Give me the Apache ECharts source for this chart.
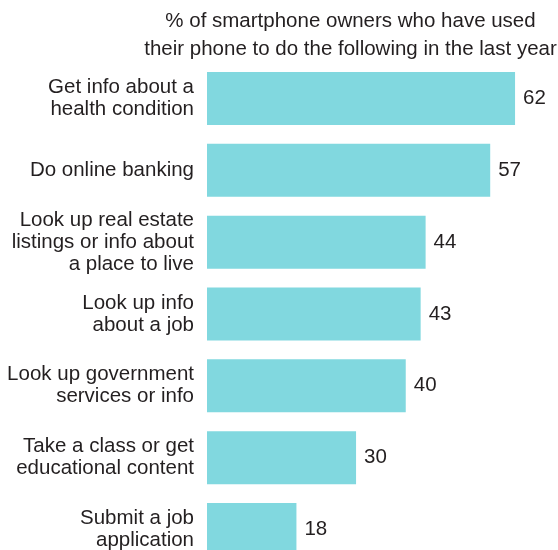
<!DOCTYPE html>
<html>
<head>
<meta charset="utf-8">
<script src="https://cdn.jsdelivr.net/npm/echarts@6/dist/echarts.min.js"></script>
<style>
  html, body { margin: 0; padding: 0; background: #ffffff; }
  #chart { width: 558px; height: 550px; }
</style>
</head>
<body>
<div id="chart"></div>
<script>
// Activities done on a smartphone in the last year
const categories = [
  'Get info about a\nhealth condition',
  'Do online banking',
  'Look up real estate\nlistings or info about\na place to live',
  'Look up info\nabout a job',
  'Look up government\nservices or info',
  'Take a class or get\neducational content',
  'Submit a job\napplication'
];
const shares = [62, 57, 44, 43, 40, 30, 18];
const heading = '% of smartphone owners who have used\ntheir phone to do the following in the last year';

const FONT = '"Liberation Sans", Arial, Helvetica, sans-serif';
const INK = '#231f20';

const chart = echarts.init(document.getElementById('chart'), null, { renderer: 'canvas' });
chart.setOption({
  animation: false,
  backgroundColor: '#ffffff',
  title: {
    text: heading,
    left: 345.5,
    top: 2,
    textAlign: 'center',
    textStyle: {
      fontFamily: FONT,
      fontSize: 20.5,
      fontWeight: 'normal',
      color: INK,
      lineHeight: 28
    }
  },
  // plot area runs past the bottom edge, so the last bar is clipped
  grid: {
    left: 207, top: 62.6, width: 347.8, height: 502.8,
    containLabel: false,
    outerBoundsMode: 'none'
  },
  xAxis: {
    type: 'value',
    min: 0,
    max: 70,
    show: false,
    splitLine: { show: false }
  },
  yAxis: {
    type: 'category',
    data: categories,
    inverse: true,
    axisLine: { show: false },
    axisTick: { show: false },
    splitLine: { show: false },
    axisLabel: {
      margin: 13,
      fontFamily: FONT,
      fontSize: 20.5,
      lineHeight: 22,
      color: INK,
      align: 'right'
    }
  },
  series: [{
    type: 'bar',
    data: shares,
    barWidth: 53,
    itemStyle: { color: '#81d8df' },
    label: {
      show: true,
      position: 'right',
      distance: 8,
      fontFamily: FONT,
      fontSize: 20.5,
      color: INK
    }
  }]
});
</script>
</body>
</html>
